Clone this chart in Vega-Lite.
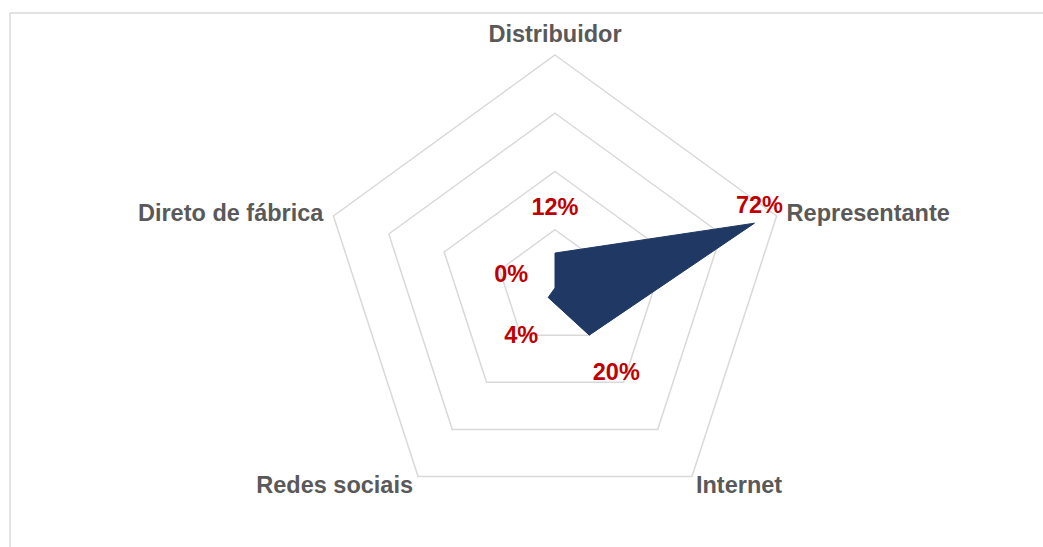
{
  "$schema": "https://vega.github.io/schema/vega-lite/v6.json",
  "width": 1033,
  "height": 534,
  "autosize": {"type": "none"},
  "padding": {"left": 10, "top": 13, "right": 0, "bottom": 0},
  "background": "white",
  "config": {"view": {"stroke": "#d9d9d9", "strokeWidth": 1.5, "strokeDash": [1033, 1567, 534, 0]}},
  "datasets": {
    "series": [
      {"cat": "Distribuidor", "k": 0, "value": 0.12},
      {"cat": "Representante", "k": 1, "value": 0.72},
      {"cat": "Internet", "k": 2, "value": 0.20},
      {"cat": "Redes sociais", "k": 3, "value": 0.04},
      {"cat": "Direto de fábrica", "k": 4, "value": 0.0}
    ],
    "grid": [
      {"ring": 0.2, "k": 0}, {"ring": 0.2, "k": 1}, {"ring": 0.2, "k": 2}, {"ring": 0.2, "k": 3}, {"ring": 0.2, "k": 4},
      {"ring": 0.4, "k": 0}, {"ring": 0.4, "k": 1}, {"ring": 0.4, "k": 2}, {"ring": 0.4, "k": 3}, {"ring": 0.4, "k": 4},
      {"ring": 0.6, "k": 0}, {"ring": 0.6, "k": 1}, {"ring": 0.6, "k": 2}, {"ring": 0.6, "k": 3}, {"ring": 0.6, "k": 4},
      {"ring": 0.8, "k": 0}, {"ring": 0.8, "k": 1}, {"ring": 0.8, "k": 2}, {"ring": 0.8, "k": 3}, {"ring": 0.8, "k": 4}
    ]
  },
  "encoding": {
    "x": {"field": "x", "type": "quantitative", "scale": {"domain": [-2.33906, 2.09442], "nice": false, "zero": false}, "axis": null},
    "y": {"field": "y", "type": "quantitative", "scale": {"domain": [-1.11159, 1.18026], "nice": false, "zero": false}, "axis": null}
  },
  "layer": [
    {
      "data": {"name": "grid"},
      "transform": [
        {"calculate": "datum.k*2*PI/5", "as": "ang"},
        {"calculate": "datum.ring/0.8*sin(datum.ang)", "as": "x"},
        {"calculate": "datum.ring/0.8*cos(datum.ang)", "as": "y"}
      ],
      "mark": {"type": "line", "interpolate": "linear-closed", "stroke": "#d9d9d9", "strokeWidth": 1.5},
      "encoding": {"detail": {"field": "ring", "type": "nominal"}, "order": {"field": "k", "type": "quantitative"}}
    },
    {
      "data": {"name": "series"},
      "transform": [
        {"calculate": "datum.k*2*PI/5", "as": "ang"},
        {"calculate": "datum.value/0.8*sin(datum.ang)", "as": "x"},
        {"calculate": "datum.value/0.8*cos(datum.ang)", "as": "y"}
      ],
      "mark": {"type": "line", "interpolate": "linear-closed", "fill": "#1f3864", "stroke": "#1f3864", "strokeWidth": 1, "strokeJoin": "miter"},
      "encoding": {"order": {"field": "k", "type": "quantitative"}}
    },
    {
      "data": {"name": "series"},
      "transform": [
        {"filter": "datum.cat != 'Representante'"},
        {"calculate": "datum.k*2*PI/5", "as": "ang"},
        {"calculate": "(datum.value/0.8 + 0.1974)*sin(datum.ang)", "as": "x"},
        {"calculate": "(datum.value/0.8 + 0.1974)*cos(datum.ang)", "as": "y"}
      ],
      "mark": {"type": "text", "align": "center", "baseline": "alphabetic", "dy": 8, "font": "Liberation Sans", "fontWeight": "bold", "fontSize": 23.5, "fill": "#c00000"},
      "encoding": {"text": {"field": "value", "type": "quantitative", "format": ".0%"}}
    },
    {
      "data": {"name": "series"},
      "transform": [
        {"filter": "datum.cat == 'Representante'"},
        {"calculate": "datum.k*2*PI/5", "as": "ang"},
        {"calculate": "datum.value/0.8*sin(datum.ang)", "as": "x"},
        {"calculate": "datum.value/0.8*cos(datum.ang)", "as": "y"}
      ],
      "mark": {"type": "text", "align": "center", "baseline": "alphabetic", "dx": 5, "dy": -10.5, "font": "Liberation Sans", "fontWeight": "bold", "fontSize": 23.5, "fill": "#c00000"},
      "encoding": {"text": {"field": "value", "type": "quantitative", "format": ".0%"}}
    },
    {
      "data": {"name": "series"},
      "transform": [
        {"calculate": "datum.k*2*PI/5", "as": "ang"},
        {"calculate": "sin(datum.ang)", "as": "x"},
        {"calculate": "cos(datum.ang)", "as": "y"}
      ],
      "layer": [
        {
          "transform": [{"filter": "datum.cat == 'Distribuidor'"}],
          "mark": {"type": "text", "align": "center", "baseline": "alphabetic", "dy": -13, "font": "Liberation Sans", "fontWeight": "bold", "fontSize": 23.5, "fill": "#595959"},
          "encoding": {"text": {"field": "cat", "type": "nominal"}}
        },
        {
          "transform": [{"filter": "datum.cat == 'Representante'"}],
          "mark": {"type": "text", "align": "left", "baseline": "alphabetic", "dx": 10, "dy": 5, "font": "Liberation Sans", "fontWeight": "bold", "fontSize": 23.5, "fill": "#595959"},
          "encoding": {"text": {"field": "cat", "type": "nominal"}}
        },
        {
          "transform": [{"filter": "datum.cat == 'Internet'"}],
          "mark": {"type": "text", "align": "left", "baseline": "alphabetic", "dx": 4, "dy": 16, "font": "Liberation Sans", "fontWeight": "bold", "fontSize": 23.5, "fill": "#595959"},
          "encoding": {"text": {"field": "cat", "type": "nominal"}}
        },
        {
          "transform": [{"filter": "datum.cat == 'Redes sociais'"}],
          "mark": {"type": "text", "align": "right", "baseline": "alphabetic", "dx": -5, "dy": 16, "font": "Liberation Sans", "fontWeight": "bold", "fontSize": 23.5, "fill": "#595959"},
          "encoding": {"text": {"field": "cat", "type": "nominal"}}
        },
        {
          "transform": [{"filter": "datum.cat == 'Direto de fábrica'"}],
          "mark": {"type": "text", "align": "right", "baseline": "alphabetic", "dx": -10, "dy": 5, "font": "Liberation Sans", "fontWeight": "bold", "fontSize": 23.5, "fill": "#595959"},
          "encoding": {"text": {"field": "cat", "type": "nominal"}}
        }
      ]
    }
  ]
}
